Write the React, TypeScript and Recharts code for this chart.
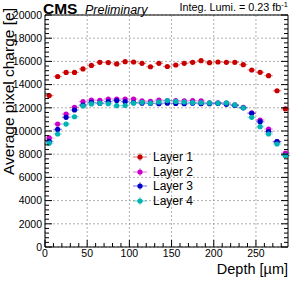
import React from "react";
import { ScatterChart, Scatter, XAxis, YAxis, CartesianGrid, ErrorBar } from "recharts";

const depth = [5, 15, 25, 35, 45, 55, 65, 75, 85, 95, 105, 115, 125, 135, 145, 155, 165, 175, 185, 195, 205, 215, 225, 235, 245, 255, 265, 275, 285];

const layer1 = [13050, 14700, 15050, 15050, 15350, 15650, 15920, 15900, 15780, 15980, 15950, 15830, 15540, 15830, 15560, 15690, 15830, 15920, 16060, 15890, 15950, 15920, 15920, 15720, 15260, 15060, 14770, 13470, 11900];
const layer2 = [9400, 10600, 11460, 12040, 12530, 12670, 12650, 12760, 12760, 12760, 12760, 12590, 12560, 12670, 12620, 12620, 12590, 12620, 12590, 12430, 12430, 12410, 12250, 12030, 11560, 10950, 10170, 9080, 8100];
const layer3 = [9100, 10140, 11180, 11810, 12240, 12470, 12400, 12530, 12630, 12530, 12450, 12400, 12380, 12350, 12400, 12380, 12350, 12400, 12350, 12350, 12380, 12300, 12200, 12000, 11520, 10800, 9940, 9080, 7900];
const layer4 = [8950, 9740, 10600, 11230, 12150, 12330, 12400, 12350, 12180, 12200, 12400, 12470, 12400, 12500, 12620, 12550, 12500, 12450, 12450, 12420, 12400, 12420, 12250, 12000, 11180, 10370, 9740, 8880, 7870];

const seriesNames = ["Layer 1", "Layer 2", "Layer 3", "Layer 4"];
const seriesColors = ["#c80000", "#c800c8", "#0000c8", "#00b4b4"];
const seriesValues = [layer1, layer2, layer3, layer4];

const xErr = 5;
const yErr = 150;

const xMajor = [0, 50, 100, 150, 200, 250];
const xTicks = [0, 10, 20, 30, 40, 50, 60, 70, 80, 90, 100, 110, 120, 130, 140, 150, 160, 170, 180, 190, 200, 210, 220, 230, 240, 250, 260, 270, 280];
const yMajor = [0, 2000, 4000, 6000, 8000, 10000, 12000, 14000, 16000, 18000, 20000];
const yTicks = [0, 400, 800, 1200, 1600, 2000, 2400, 2800, 3200, 3600, 4000, 4400, 4800, 5200, 5600, 6000, 6400, 6800, 7200, 7600, 8000, 8400, 8800, 9200, 9600, 10000, 10400, 10800, 11200, 11600, 12000, 12400, 12800, 13200, 13600, 14000, 14400, 14800, 15200, 15600, 16000, 16400, 16800, 17200, 17600, 18000, 18400, 18800, 19200, 19600, 20000];

const X_DOMAIN: [number, number] = [0, 288];
const Y_DOMAIN: [number, number] = [0, 20000];
const FONT = "'Liberation Sans', Arial, Helvetica, sans-serif";

const datasets = seriesValues.map((vals) =>
  vals.map((v, i) => ({ x: depth[i], y: v, ex: xErr, ey: yErr }))
);

const MAJ = 7;
const MIN = 4;

function isXMajor(v: number) { return xMajor.indexOf(v) >= 0; }
function isYMajor(v: number) { return yMajor.indexOf(v) >= 0; }

function BottomTick(p: any) {
  const v = p.payload.value;
  const maj = isXMajor(v);
  return (
    <g>
      <line x1={p.x} x2={p.x} y1={p.y} y2={p.y - (maj ? MAJ : MIN)} stroke="#000" strokeWidth={1} />
      {maj && (
        <text x={p.x} y={p.y + 3} dy="0.71em" textAnchor="middle" fontSize={10.5} fontFamily={FONT} fill="#000">{v}</text>
      )}
    </g>
  );
}
function TopTick(p: any) {
  const v = p.payload.value;
  const maj = isXMajor(v);
  return <line x1={p.x} x2={p.x} y1={p.y} y2={p.y + (maj ? MAJ : MIN)} stroke="#000" strokeWidth={1} />;
}
function LeftTick(p: any) {
  const v = p.payload.value;
  const maj = isYMajor(v);
  return (
    <g>
      <line x1={p.x} x2={p.x + (maj ? MAJ : MIN)} y1={p.y} y2={p.y} stroke="#000" strokeWidth={1} />
      {maj && (
        <text x={p.x - 3} y={p.y} dy="0.355em" textAnchor="end" fontSize={10.5} fontFamily={FONT} fill="#000">{v}</text>
      )}
    </g>
  );
}
function RightTick(p: any) {
  const v = p.payload.value;
  const maj = isYMajor(v);
  return <line x1={p.x} x2={p.x - (maj ? MAJ : MIN)} y1={p.y} y2={p.y} stroke="#000" strokeWidth={1} />;
}

function LegendBox() {
  return (
    <div style={{ position: "absolute", left: 132, top: 150, fontFamily: FONT, fontSize: 12, color: "#000", lineHeight: "14.5px" }}>
      {seriesNames.map((n, i) => (
        <div key={n} style={{ display: "flex", alignItems: "center", height: 14.5 }}>
          <svg width={16} height={14} style={{ marginRight: 5 }}>
            <line x1={1} x2={15} y1={7} y2={7} stroke={seriesColors[i]} strokeOpacity={0.45} strokeWidth={1.2} />
            <line x1={8} x2={8} y1={3} y2={11} stroke={seriesColors[i]} strokeOpacity={0.45} strokeWidth={1.2} />
            <circle cx={8} cy={7} r={2.6} fill={seriesColors[i]} />
          </svg>
          <span>{n}</span>
        </div>
      ))}
    </div>
  );
}

export default function App() {
  return (
    <div style={{ position: "absolute", left: 0, top: 0, width: 297, height: 285, background: "#fff" }}>
      <ScatterChart width={297} height={285} margin={{ top: 14, right: 8, bottom: 37, left: 44 }}>
        <CartesianGrid stroke="#9a9a9a" strokeDasharray="2 2" strokeWidth={0.8} horizontalValues={yMajor} verticalValues={xMajor} />
        <XAxis xAxisId={0} type="number" dataKey="x" domain={X_DOMAIN} ticks={xTicks} height={1} tickSize={0} tickMargin={0} tickLine={false} axisLine={{ stroke: "#000" }} tick={<BottomTick />} allowDataOverflow interval={0} />
        <YAxis yAxisId={0} type="number" dataKey="y" domain={Y_DOMAIN} ticks={yTicks} width={1} tickSize={0} tickMargin={0} tickLine={false} axisLine={{ stroke: "#000" }} tick={<LeftTick />} allowDataOverflow interval={0} />
        <XAxis xAxisId="top" orientation="top" type="number" domain={X_DOMAIN} ticks={xTicks} height={1} tickSize={0} tickMargin={0} tickLine={false} axisLine={{ stroke: "#000" }} tick={<TopTick />} allowDataOverflow interval={0} />
        <YAxis yAxisId="right" orientation="right" type="number" domain={Y_DOMAIN} ticks={yTicks} width={1} tickSize={0} tickMargin={0} tickLine={false} axisLine={{ stroke: "#000" }} tick={<RightTick />} allowDataOverflow interval={0} />

        {datasets.map((d, i) => (
          <Scatter
            key={seriesNames[i]}
            name={seriesNames[i]}
            data={d}
            xAxisId={0}
            yAxisId={0}
            fill={seriesColors[i]}
            isAnimationActive={false}
            shape={(p: any) => <circle cx={p.cx} cy={p.cy} r={2.6} fill={seriesColors[i]} />}
          >
            <ErrorBar dataKey="ex" direction="x" width={0} stroke={seriesColors[i]} strokeOpacity={0.45} strokeWidth={1.2} isAnimationActive={false} />
            <ErrorBar dataKey="ey" direction="y" width={0} stroke={seriesColors[i]} strokeOpacity={0.45} strokeWidth={1.2} isAnimationActive={false} />
          </Scatter>
        ))}
      </ScatterChart>
      <LegendBox />
      <svg width={297} height={285} style={{ position: "absolute", left: 0, top: 0, pointerEvents: "none" }}>
        <text x={43} y={13.5} fontFamily={FONT} fontWeight="bold" fontSize={15.5}>CMS</text>
        <text x={85} y={13.5} fontFamily={FONT} fontStyle="italic" fontSize={12.5}>Preliminary</text>
        <text x={288} y={11} textAnchor="end" fontFamily={FONT} fontSize={10.8}>
          Integ. Lumi. =  0.23 fb<tspan fontSize={7.5} dy={-4}>-1</tspan>
        </text>
        <text transform="translate(13.5, 91.5) rotate(-90)" textAnchor="middle" fontFamily={FONT} fontSize={15.5}>Average pixel charge [e]</text>
        <text x={288} y={273.5} textAnchor="end" fontFamily={FONT} fontSize={14.5}>Depth [µm]</text>
      </svg>
    </div>
  );
}
